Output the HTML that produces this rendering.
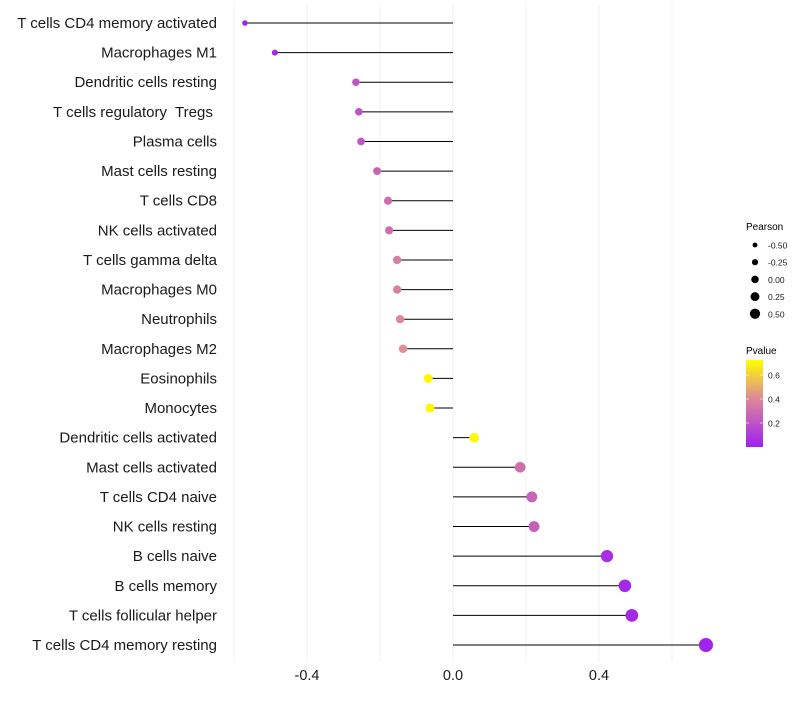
<!DOCTYPE html>
<html><head><meta charset="utf-8"><style>
body{margin:0;background:#fff;font-family:"Liberation Sans",sans-serif}
svg text{font-family:"Liberation Sans",sans-serif}
</style></head><body>
<svg id="chart" width="800" height="700" xmlns="http://www.w3.org/2000/svg"></svg>
<script>
const categories=["T cells CD4 memory activated","Macrophages M1","Dendritic cells resting","T cells regulatory  Tregs ","Plasma cells","Mast cells resting","T cells CD8","NK cells activated","T cells gamma delta","Macrophages M0","Neutrophils","Macrophages M2","Eosinophils","Monocytes","Dendritic cells activated","Mast cells activated","T cells CD4 naive","NK cells resting","B cells naive","B cells memory","T cells follicular helper","T cells CD4 memory resting"];
const pearson=[-0.57,-0.488,-0.266,-0.258,-0.252,-0.208,-0.178,-0.175,-0.153,-0.153,-0.145,-0.137,-0.068,-0.063,0.058,0.184,0.216,0.222,0.422,0.471,0.49,0.693];
const pvalue=[0.01,0.03,0.2,0.2,0.21,0.26,0.3,0.3,0.36,0.36,0.4,0.42,0.7,0.7,0.7,0.3,0.26,0.25,0.05,0.03,0.03,0.01];
const xTicks=[-0.4,0,0.4];
const xTickLabels=["-0.4","0.0","0.4"];
const gridVals=[-0.6,-0.4,-0.2,0,0.2,0.4,0.6];
const sizeLegend=[-0.5,-0.25,0,0.25,0.5];
const sizeLegendLabels=["-0.50","-0.25","0.00","0.25","0.50"];
const colorTicks=[0.2,0.4,0.6];

const NS="http://www.w3.org/2000/svg";
const svg=document.getElementById('chart');
function mk(t,a,p){const e=document.createElementNS(NS,t);for(const k in a)e.setAttribute(k,a[k]);(p||svg).appendChild(e);return e;}
const x=v=>453+v*365;
const y=i=>23+i*(645-23)/(categories.length-1);
const r=v=>4.7+3.4*v;
function lerp(a,b,t){return a.map((c,i)=>Math.round(c+(b[i]-c)*t));}
function color(p){const s=[[0,[160,32,240]],[0.4,[221,136,153]],[0.72,[255,255,0]]];
 p=Math.max(0,Math.min(0.72,p));for(let i=0;i<s.length-1;i++){if(p<=s[i+1][0]){const c=lerp(s[i][1],s[i+1][1],(p-s[i][0])/(s[i+1][0]-s[i][0]));return `rgb(${c})`;}}return 'rgb(255,255,0)';}

const grid=mk('g',{});


gridVals.forEach(v=>{const l=mk('line',{x1:x(v),x2:x(v),y1:5,y2:662,stroke:'#f0f0f0','stroke-width':1},grid);
 
 });

categories.forEach((c,i)=>{
 const t=mk('text',{x:217,y:y(i)+5,'text-anchor':'end','font-size':15,fill:'#1a1a1a',style:'white-space:pre'});t.textContent=c;
 
 
 const l=mk('line',{x1:x(0),x2:x(pearson[i]),y1:y(i),y2:y(i),stroke:'#000','stroke-width':1});
 
 
 const d=mk('circle',{cx:x(pearson[i]),cy:y(i),r:r(pearson[i]),fill:color(pvalue[i])});
 
 
});
xTicks.forEach((v,i)=>{const t=mk('text',{x:x(v),y:680,'text-anchor':'middle','font-size':14.5,fill:'#1a1a1a'});t.textContent=xTickLabels[i];
 
 });

const lt=mk('text',{x:746,y:230,'font-size':10,fill:'#000'});lt.textContent='Pearson';


sizeLegend.forEach((v,i)=>{const cy=245+i*17.2;
 const c=mk('circle',{cx:755,cy:cy,r:r(v)*0.8,fill:'#000'});
 
 
 const t=mk('text',{x:768,y:cy+3.5,'font-size':8.5,fill:'#1a1a1a'});t.textContent=sizeLegendLabels[i];
 
 });

const ct=mk('text',{x:746,y:354,'font-size':10,fill:'#000'});ct.textContent='Pvalue';


const defs=mk('defs',{});const g=mk('linearGradient',{id:'pg',x1:0,y1:1,x2:0,y2:0},defs);
[0,0.1,0.2,0.3,0.4,0.5,0.6,0.72].forEach(p=>mk('stop',{offset:p/0.72,'stop-color':color(p)},g));
const cb=mk('rect',{x:746,y:360,width:17,height:87,fill:'url(#pg)'});


const cy=p=>447-p*120;
colorTicks.forEach(p=>{mk('line',{x1:746,x2:749,y1:cy(p),y2:cy(p),stroke:'#fff','stroke-width':0.6});mk('line',{x1:760,x2:763,y1:cy(p),y2:cy(p),stroke:'#fff','stroke-width':0.6});
 const t=mk('text',{x:768,y:cy(p)+3.5,'font-size':8.5,fill:'#1a1a1a'});t.textContent=p.toFixed(1);
 
 });
</script>
</body></html>
